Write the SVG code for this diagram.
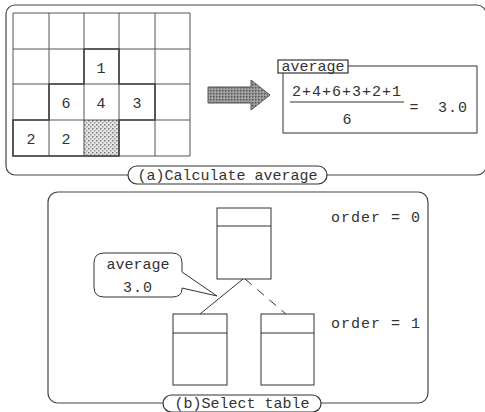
<svg xmlns="http://www.w3.org/2000/svg" width="485" height="412" viewBox="0 0 485 412">
<defs>
<pattern id="dots" width="4" height="4" patternUnits="userSpaceOnUse">
<rect width="4" height="4" fill="#e6e6e6"/>
<rect x="0" y="0" width="1.5" height="1.5" fill="#777"/>
<rect x="2" y="2" width="1.5" height="1.5" fill="#999"/>
</pattern>
<pattern id="dark" width="3" height="3" patternUnits="userSpaceOnUse">
<rect width="3" height="3" fill="#9a9a9a"/>
<rect x="0" y="0" width="1.5" height="1.5" fill="#555"/>
<rect x="1.5" y="1.5" width="1" height="1" fill="#bbb"/>
</pattern>
</defs>
<style>
text{font-family:"Liberation Mono","DejaVu Sans Mono",monospace;fill:#333;}
.t{font-size:15px;}
.frame{fill:none;stroke:#444;stroke-width:1.2;}
.ln{fill:none;stroke:#333;stroke-width:1;}
.thin{fill:none;stroke:#555;stroke-width:1;}
.bold{fill:none;stroke:#444;stroke-width:1.6;}
.pill{fill:#fff;stroke:#333;stroke-width:1.2;}
.tbl{fill:#fff;stroke:#333;stroke-width:1;}
</style>

<g id="frame-a">
<rect class="frame" x="6" y="5" width="480" height="170" rx="9"/>
<rect class="pill" x="128" y="166" width="199" height="18" rx="9"/>
<text class="t" x="227.5" y="180" text-anchor="middle">(a)Calculate average</text>
</g>

<g id="grid">
<rect x="84" y="120" width="35" height="36" fill="url(#dots)"/>
<path class="thin" d="M13 13H190V156H13Z M49 13V156 M84 13V156 M119 13V156 M155 13V156 M13 49H190 M13 84H190 M13 120H190"/>
<path class="bold" d="M84 49H119V84H155V120H119V156H13V120H49V84H84Z"/>
<text class="t" x="101" y="73" text-anchor="middle">1</text>
<text class="t" x="66" y="108" text-anchor="middle">6</text>
<text class="t" x="101" y="108" text-anchor="middle">4</text>
<text class="t" x="137" y="108" text-anchor="middle">3</text>
<text class="t" x="31" y="144" text-anchor="middle">2</text>
<text class="t" x="66" y="144" text-anchor="middle">2</text>
</g>

<g id="arrow">
<polygon points="208,87 251,87 251,80 270,95 251,110 251,103 208,103" fill="url(#dark)" stroke="#555" stroke-width="1"/>
</g>

<g id="average-box">
<rect class="ln" x="283" y="66" width="194" height="67"/>
<rect x="278" y="60" width="70" height="13" fill="#fff" stroke="#333" stroke-width="1.2"/>
<text class="t" x="313" y="71" text-anchor="middle">average</text>
<text class="t" x="347" y="96" text-anchor="middle" letter-spacing="1">2+4+6+3+2+1</text>
<line class="ln" x1="290" y1="102" x2="404" y2="102"/>
<text class="t" x="347" y="124" text-anchor="middle">6</text>
<text class="t" x="414" y="112" text-anchor="middle">=</text>
<text class="t" x="453" y="112" text-anchor="middle" letter-spacing="1">3.0</text>
</g>

<g id="frame-b">
<rect class="frame" x="48" y="192" width="380" height="211" rx="10"/>
<rect class="pill" x="163" y="395" width="158" height="17" rx="8.5"/>
<text class="t" x="242" y="408" text-anchor="middle">(b)Select table</text>
<text class="t" x="376" y="222" text-anchor="middle" letter-spacing="1">order = 0</text>
<text class="t" x="376" y="328" text-anchor="middle" letter-spacing="1">order = 1</text>
</g>

<g id="connectors">
<line class="ln" x1="243" y1="279" x2="200" y2="314"/>
<line class="ln" x1="245" y1="279" x2="287" y2="315" stroke-dasharray="9,7"/>
</g>

<g id="table-top">
<rect class="tbl" x="217" y="208" width="54" height="71"/>
<line class="ln" x1="217" y1="226" x2="271" y2="226"/>
</g>
<g id="table-left">
<rect class="tbl" x="173" y="314" width="54" height="71"/>
<line class="ln" x1="173" y1="333" x2="227" y2="333"/>
</g>
<g id="table-right">
<rect class="tbl" x="261" y="314" width="53" height="71"/>
<line class="ln" x1="261" y1="333" x2="314" y2="333"/>
</g>

<g id="callout">
<path d="M104 253H172Q182 253 182 263V272L217 296L182 288V289Q182 297 172 297H104Q94 297 94 287V263Q94 253 104 253Z" fill="#fff" stroke="#333" stroke-width="1"/>
<text class="t" x="138" y="269" text-anchor="middle">average</text>
<text class="t" x="138" y="292" text-anchor="middle" letter-spacing="1">3.0</text>
</g>
</svg>
